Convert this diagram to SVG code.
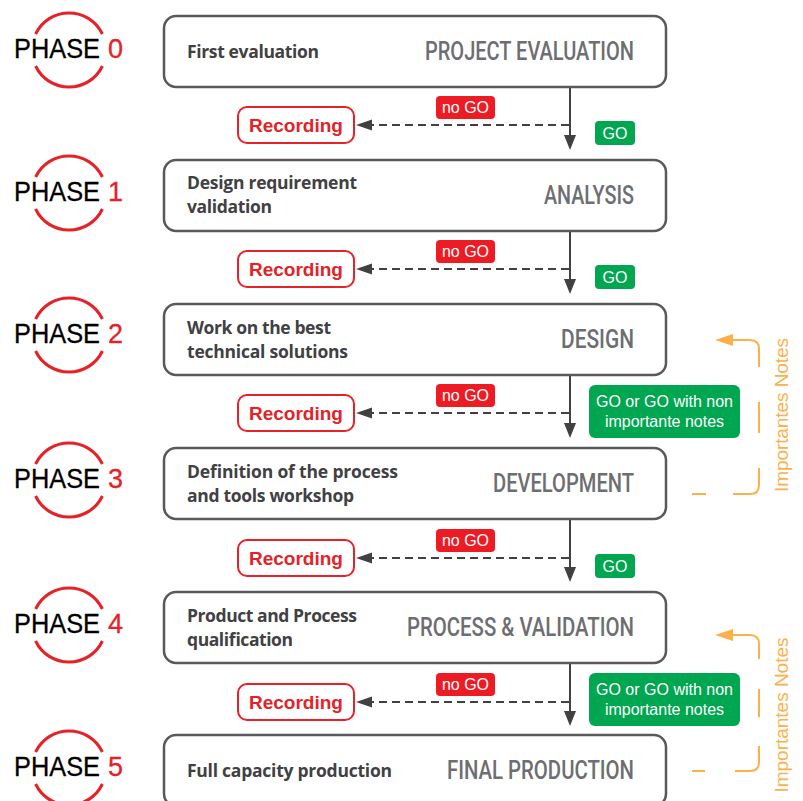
<svg xmlns="http://www.w3.org/2000/svg" width="803" height="801" viewBox="0 0 803 801">
<defs>
<style>
.ring{fill:none;stroke:#e42228;stroke-width:3}
.ph{font-family:"Liberation Sans",Arial,sans-serif;font-size:27px;fill:#000;stroke:#000;stroke-width:0.3}
.pn{font-family:"Liberation Sans",Arial,sans-serif;font-size:27px;fill:#e42228;stroke:#e42228;stroke-width:0.3}
.box{fill:#fff;stroke:#58595b;stroke-width:2.5}
.lt{font-family:"Open Sans","Noto Sans",sans-serif;font-weight:700;font-size:17.5px;fill:#414042}
.rt{font-family:Roboto,"Liberation Sans",sans-serif;font-weight:500;font-size:25px;fill:#6d6e71;text-anchor:end}
.rec{fill:#fff;stroke:#e42228;stroke-width:2}
.rect{font-family:"Liberation Sans",Arial,sans-serif;font-weight:700;font-size:19px;fill:#e42228;text-anchor:middle}
.nogo{fill:#ed1c24}
.go{fill:#00a650}
.wt{font-family:"Liberation Sans",Arial,sans-serif;font-size:16px;fill:#fff;text-anchor:middle}
.vl{stroke:#414042;stroke-width:2;fill:none}
.dl{stroke:#414042;stroke-width:2;fill:none;stroke-dasharray:8 5}
.ah{fill:#414042}
.or{stroke:#fbb04a;stroke-width:2;fill:none}
.orf{fill:#fbb04a}
.ot{font-family:"Liberation Sans",Arial,sans-serif;font-size:19px;fill:#fbb04a;text-anchor:middle}
</style>
</defs>
<rect width="803" height="801" fill="#fff"/>

<g id="phase0">
<path class="ring" d="M35.6 34 A37 37 0 0 1 102.4 34 M102.4 66 A37 37 0 0 1 35.6 66"/>
<text class="ph" x="14" y="58" textLength="86" lengthAdjust="spacingAndGlyphs">PHASE</text><text class="pn" x="108" y="58">0</text>
</g>
<g id="phase1">
<path class="ring" d="M35.6 177 A37 37 0 0 1 102.4 177 M102.4 209 A37 37 0 0 1 35.6 209"/>
<text class="ph" x="14" y="201" textLength="86" lengthAdjust="spacingAndGlyphs">PHASE</text><text class="pn" x="108" y="201">1</text>
</g>
<g id="phase2">
<path class="ring" d="M35.6 319 A37 37 0 0 1 102.4 319 M102.4 351 A37 37 0 0 1 35.6 351"/>
<text class="ph" x="14" y="343" textLength="86" lengthAdjust="spacingAndGlyphs">PHASE</text><text class="pn" x="108" y="343">2</text>
</g>
<g id="phase3">
<path class="ring" d="M35.6 464 A37 37 0 0 1 102.4 464 M102.4 496 A37 37 0 0 1 35.6 496"/>
<text class="ph" x="14" y="488" textLength="86" lengthAdjust="spacingAndGlyphs">PHASE</text><text class="pn" x="108" y="488">3</text>
</g>
<g id="phase4">
<path class="ring" d="M35.6 609 A37 37 0 0 1 102.4 609 M102.4 641 A37 37 0 0 1 35.6 641"/>
<text class="ph" x="14" y="633" textLength="86" lengthAdjust="spacingAndGlyphs">PHASE</text><text class="pn" x="108" y="633">4</text>
</g>
<g id="phase5">
<path class="ring" d="M35.6 752 A37 37 0 0 1 102.4 752 M102.4 784 A37 37 0 0 1 35.6 784"/>
<text class="ph" x="14" y="776" textLength="86" lengthAdjust="spacingAndGlyphs">PHASE</text><text class="pn" x="108" y="776">5</text>
</g>

<g id="connectors">
<path class="vl" d="M570 87 V138 M570 231 V282 M570 375 V426 M570 520 V570 M570 664 V714"/>
<polygon class="ah" points="564,135 576,135 570,150"/>
<polygon class="ah" points="564,279 576,279 570,294"/>
<polygon class="ah" points="564,423 576,423 570,438"/>
<polygon class="ah" points="564,567 576,567 570,582"/>
<polygon class="ah" points="564,711 576,711 570,726"/>
<path class="dl" d="M569 125 H370 M569 269 H370 M569 413 H370 M569 558 H370 M569 702 H370"/>
<polygon class="ah" points="356,125 372,119.5 372,130.5"/>
<polygon class="ah" points="356,269 372,263.5 372,274.5"/>
<polygon class="ah" points="356,413 372,407.5 372,418.5"/>
<polygon class="ah" points="356,558 372,552.5 372,563.5"/>
<polygon class="ah" points="356,702 372,696.5 372,707.5"/>
</g>

<g id="box0">
<rect class="box" x="164" y="16" width="502" height="71" rx="12"/>
<text class="lt" x="187" y="58" textLength="132">First evaluation</text>
<text class="rt" x="634" y="60" textLength="209" lengthAdjust="spacingAndGlyphs">PROJECT EVALUATION</text>
</g>
<g id="box1">
<rect class="box" x="164" y="160" width="502" height="71" rx="12"/>
<text class="lt" x="187" y="189" textLength="170">Design requirement</text>
<text class="lt" x="187" y="213" textLength="85">validation</text>
<text class="rt" x="634" y="204" textLength="90" lengthAdjust="spacingAndGlyphs">ANALYSIS</text>
</g>
<g id="box2">
<rect class="box" x="164" y="304" width="502" height="71" rx="12"/>
<text class="lt" x="187" y="334" textLength="144">Work on the best</text>
<text class="lt" x="187" y="358" textLength="161">technical solutions</text>
<text class="rt" x="634" y="348" textLength="73" lengthAdjust="spacingAndGlyphs">DESIGN</text>
</g>
<g id="box3">
<rect class="box" x="164" y="448" width="502" height="71" rx="12"/>
<text class="lt" x="187" y="478" textLength="211">Definition of the process</text>
<text class="lt" x="187" y="502" textLength="167">and tools workshop</text>
<text class="rt" x="634" y="492" textLength="141" lengthAdjust="spacingAndGlyphs">DEVELOPMENT</text>
</g>
<g id="box4">
<rect class="box" x="164" y="592" width="502" height="71" rx="12"/>
<text class="lt" x="187" y="622" textLength="170">Product and Process</text>
<text class="lt" x="187" y="646" textLength="106">qualification</text>
<text class="rt" x="634" y="636" textLength="227" lengthAdjust="spacingAndGlyphs">PROCESS &amp; VALIDATION</text>
</g>
<g id="box5">
<rect class="box" x="164" y="735" width="502" height="71" rx="12"/>
<text class="lt" x="187" y="777" textLength="205">Full capacity production</text>
<text class="rt" x="634" y="779" textLength="187" lengthAdjust="spacingAndGlyphs">FINAL PRODUCTION</text>
</g>

<g id="recording0"><rect class="rec" x="238" y="107" width="116" height="36" rx="9"/><text class="rect" x="296" y="132">Recording</text></g>
<g id="recording1"><rect class="rec" x="238" y="251" width="116" height="36" rx="9"/><text class="rect" x="296" y="276">Recording</text></g>
<g id="recording2"><rect class="rec" x="238" y="395" width="116" height="36" rx="9"/><text class="rect" x="296" y="420">Recording</text></g>
<g id="recording3"><rect class="rec" x="238" y="540" width="116" height="36" rx="9"/><text class="rect" x="296" y="565">Recording</text></g>
<g id="recording4"><rect class="rec" x="238" y="684" width="116" height="36" rx="9"/><text class="rect" x="296" y="709">Recording</text></g>

<g id="nogo0"><rect class="nogo" x="436" y="96" width="59" height="23" rx="4"/><text class="wt" x="465.5" y="113">no GO</text></g>
<g id="nogo1"><rect class="nogo" x="436" y="240" width="59" height="23" rx="4"/><text class="wt" x="465.5" y="257">no GO</text></g>
<g id="nogo2"><rect class="nogo" x="436" y="384" width="59" height="23" rx="4"/><text class="wt" x="465.5" y="401">no GO</text></g>
<g id="nogo3"><rect class="nogo" x="436" y="529" width="59" height="23" rx="4"/><text class="wt" x="465.5" y="546">no GO</text></g>
<g id="nogo4"><rect class="nogo" x="436" y="673" width="59" height="23" rx="4"/><text class="wt" x="465.5" y="690">no GO</text></g>

<g id="go0"><rect class="go" x="595" y="121" width="40" height="24" rx="4"/><text class="wt" x="615" y="139">GO</text></g>
<g id="go1"><rect class="go" x="595" y="265" width="40" height="24" rx="4"/><text class="wt" x="615" y="283">GO</text></g>
<g id="go2"><rect class="go" x="589" y="385" width="151" height="53" rx="6"/><text class="wt" x="664.5" y="407">GO or GO with non</text><text class="wt" x="664.5" y="427">importante notes</text></g>
<g id="go3"><rect class="go" x="595" y="554" width="40" height="24" rx="4"/><text class="wt" x="615" y="572">GO</text></g>
<g id="go4"><rect class="go" x="589" y="673" width="151" height="53" rx="6"/><text class="wt" x="664.5" y="695">GO or GO with non</text><text class="wt" x="664.5" y="715">importante notes</text></g>

<g id="notes1">
<polygon class="orf" points="715,340 733,334 733,346"/>
<path class="or" d="M732 340 H750 Q759 340 759 349 V367 M759 402 V433 M759 468 V485 Q759 494 750 494 H733 M706 494 H692"/>
<text class="ot" x="788" y="415" transform="rotate(-90 788 415)" textLength="154">Importantes Notes</text>
</g>
<g id="notes2">
<polygon class="orf" points="715,635 733,629 733,641"/>
<path class="or" d="M732 635 H750 Q759 635 759 644 V659 M759 689 V717 M759 746 V762 Q759 771 750 771 H735 M705 771 H692"/>
<text class="ot" x="788" y="715" transform="rotate(-90 788 715)" textLength="155">Importantes Notes</text>
</g>
</svg>
